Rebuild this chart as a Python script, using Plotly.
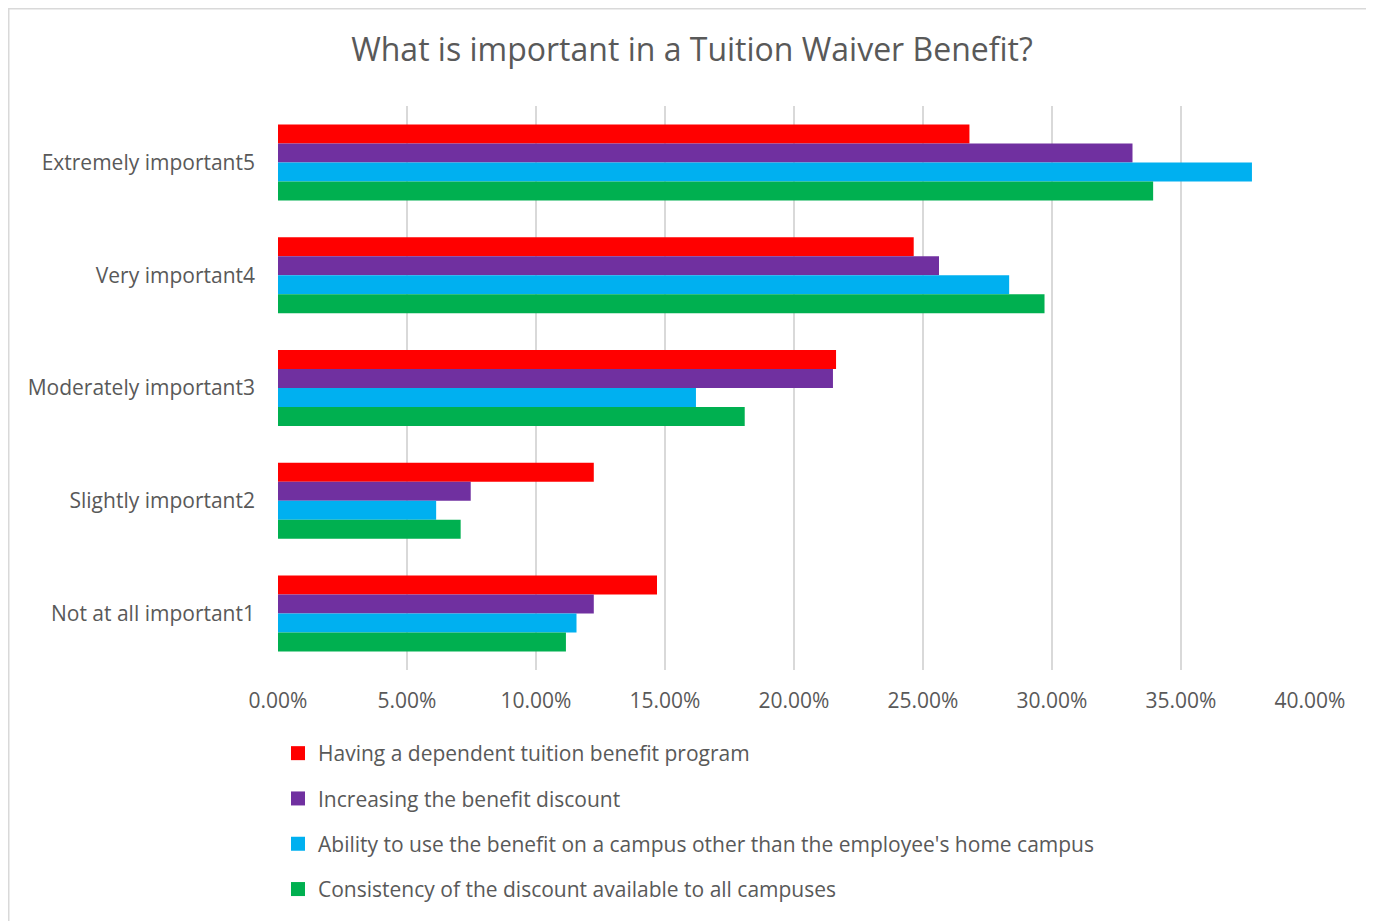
import plotly.graph_objects as go

categories = ["Extremely important5", "Very important4", "Moderately important3",
              "Slightly important2", "Not at all important1"]
series_names = [
    "Having a dependent tuition benefit program",
    "Increasing the benefit discount",
    "Ability to use the benefit on a campus other than the employee's home campus",
    "Consistency of the discount available to all campuses",
]
dependent_program = [0.2680, 0.2464, 0.2163, 0.1224, 0.1469]
increasing_discount = [0.3312, 0.2562, 0.2151, 0.0747, 0.1224]
other_campus = [0.3775, 0.2834, 0.1620, 0.0613, 0.1157]
consistency = [0.3392, 0.2971, 0.1809, 0.0708, 0.1116]
colors = ["#FF0000", "#7030A0", "#00B0F0", "#00B050"]
tick_values = [0, 0.05, 0.10, 0.15, 0.20, 0.25, 0.30, 0.35, 0.40]

series_values = [dependent_program, increasing_discount, other_campus, consistency]

# page is offset by the browser's 8px body margin
OFF = 8
W, H = 1374, 921
L = 278 - OFF
T = 106 - OFF
pw = 1032
ph = 564
R = W - L - pw
B = H - T - ph

font_family = "Open Sans, sans-serif"
grey = "#595959"

fig = go.Figure()
for name, vals, col in zip(series_names, series_values, colors):
    fig.add_trace(go.Bar(
        y=categories, x=vals, name=name, orientation="h",
        marker=dict(color=col, line=dict(width=0)),
        showlegend=False, hoverinfo="x+name",
    ))
for i, (name, col) in enumerate(zip(series_names, colors)):
    fig.add_trace(go.Scatter(
        x=[None], y=[None], mode="markers", name=name,
        marker=dict(symbol="square", size=14, color=col),
        legendgroup=f"g{i}", showlegend=True,
    ))

fig.update_layout(
    width=W, height=H,
    margin=dict(l=L, r=R, t=T, b=B, pad=0),
    paper_bgcolor="white", plot_bgcolor="white",
    barmode="group", bargap=0.326, bargroupgap=0,
    font=dict(family=font_family, color=grey, size=21),
    title=dict(text="What is important in a Tuition Waiver Benefit?",
               x=(692 - OFF - L) / pw, xref="paper", xanchor="center",
               y=1 - (50 - OFF) / H, yref="container", yanchor="middle",
               font=dict(size=32, color=grey, family=font_family)),
    xaxis=dict(range=[0, 0.40], tickvals=tick_values, tickformat=".2%",
               showgrid=True, gridcolor="#D9D9D9", gridwidth=1.5,
               zeroline=False, showline=False, ticks="",
               tickfont=dict(size=21, color=grey), ticklabelstandoff=16,
               fixedrange=True),
    yaxis=dict(autorange="reversed", showgrid=False, zeroline=False,
               showline=False, ticks="", tickfont=dict(size=21, color=grey),
               ticklabelstandoff=22, fixedrange=True),
    legend=dict(x=(278 - OFF - L) / pw, xanchor="left",
                y=(ph - (733 - OFF - T)) / ph, yanchor="top",
                font=dict(size=21, color=grey), tracegroupgap=15,
                bgcolor="rgba(0,0,0,0)", itemclick=False),
    shapes=[dict(type="rect", xref="paper", yref="paper",
                 x0=(0.75 - L) / pw, x1=(1400 - L) / pw,
                 y0=(ph - (940 - T)) / ph, y1=(ph - (0.75 - T)) / ph,
                 line=dict(color="#D9D9D9", width=1.5), layer="below")],
)

fig.write_html("out.html")
